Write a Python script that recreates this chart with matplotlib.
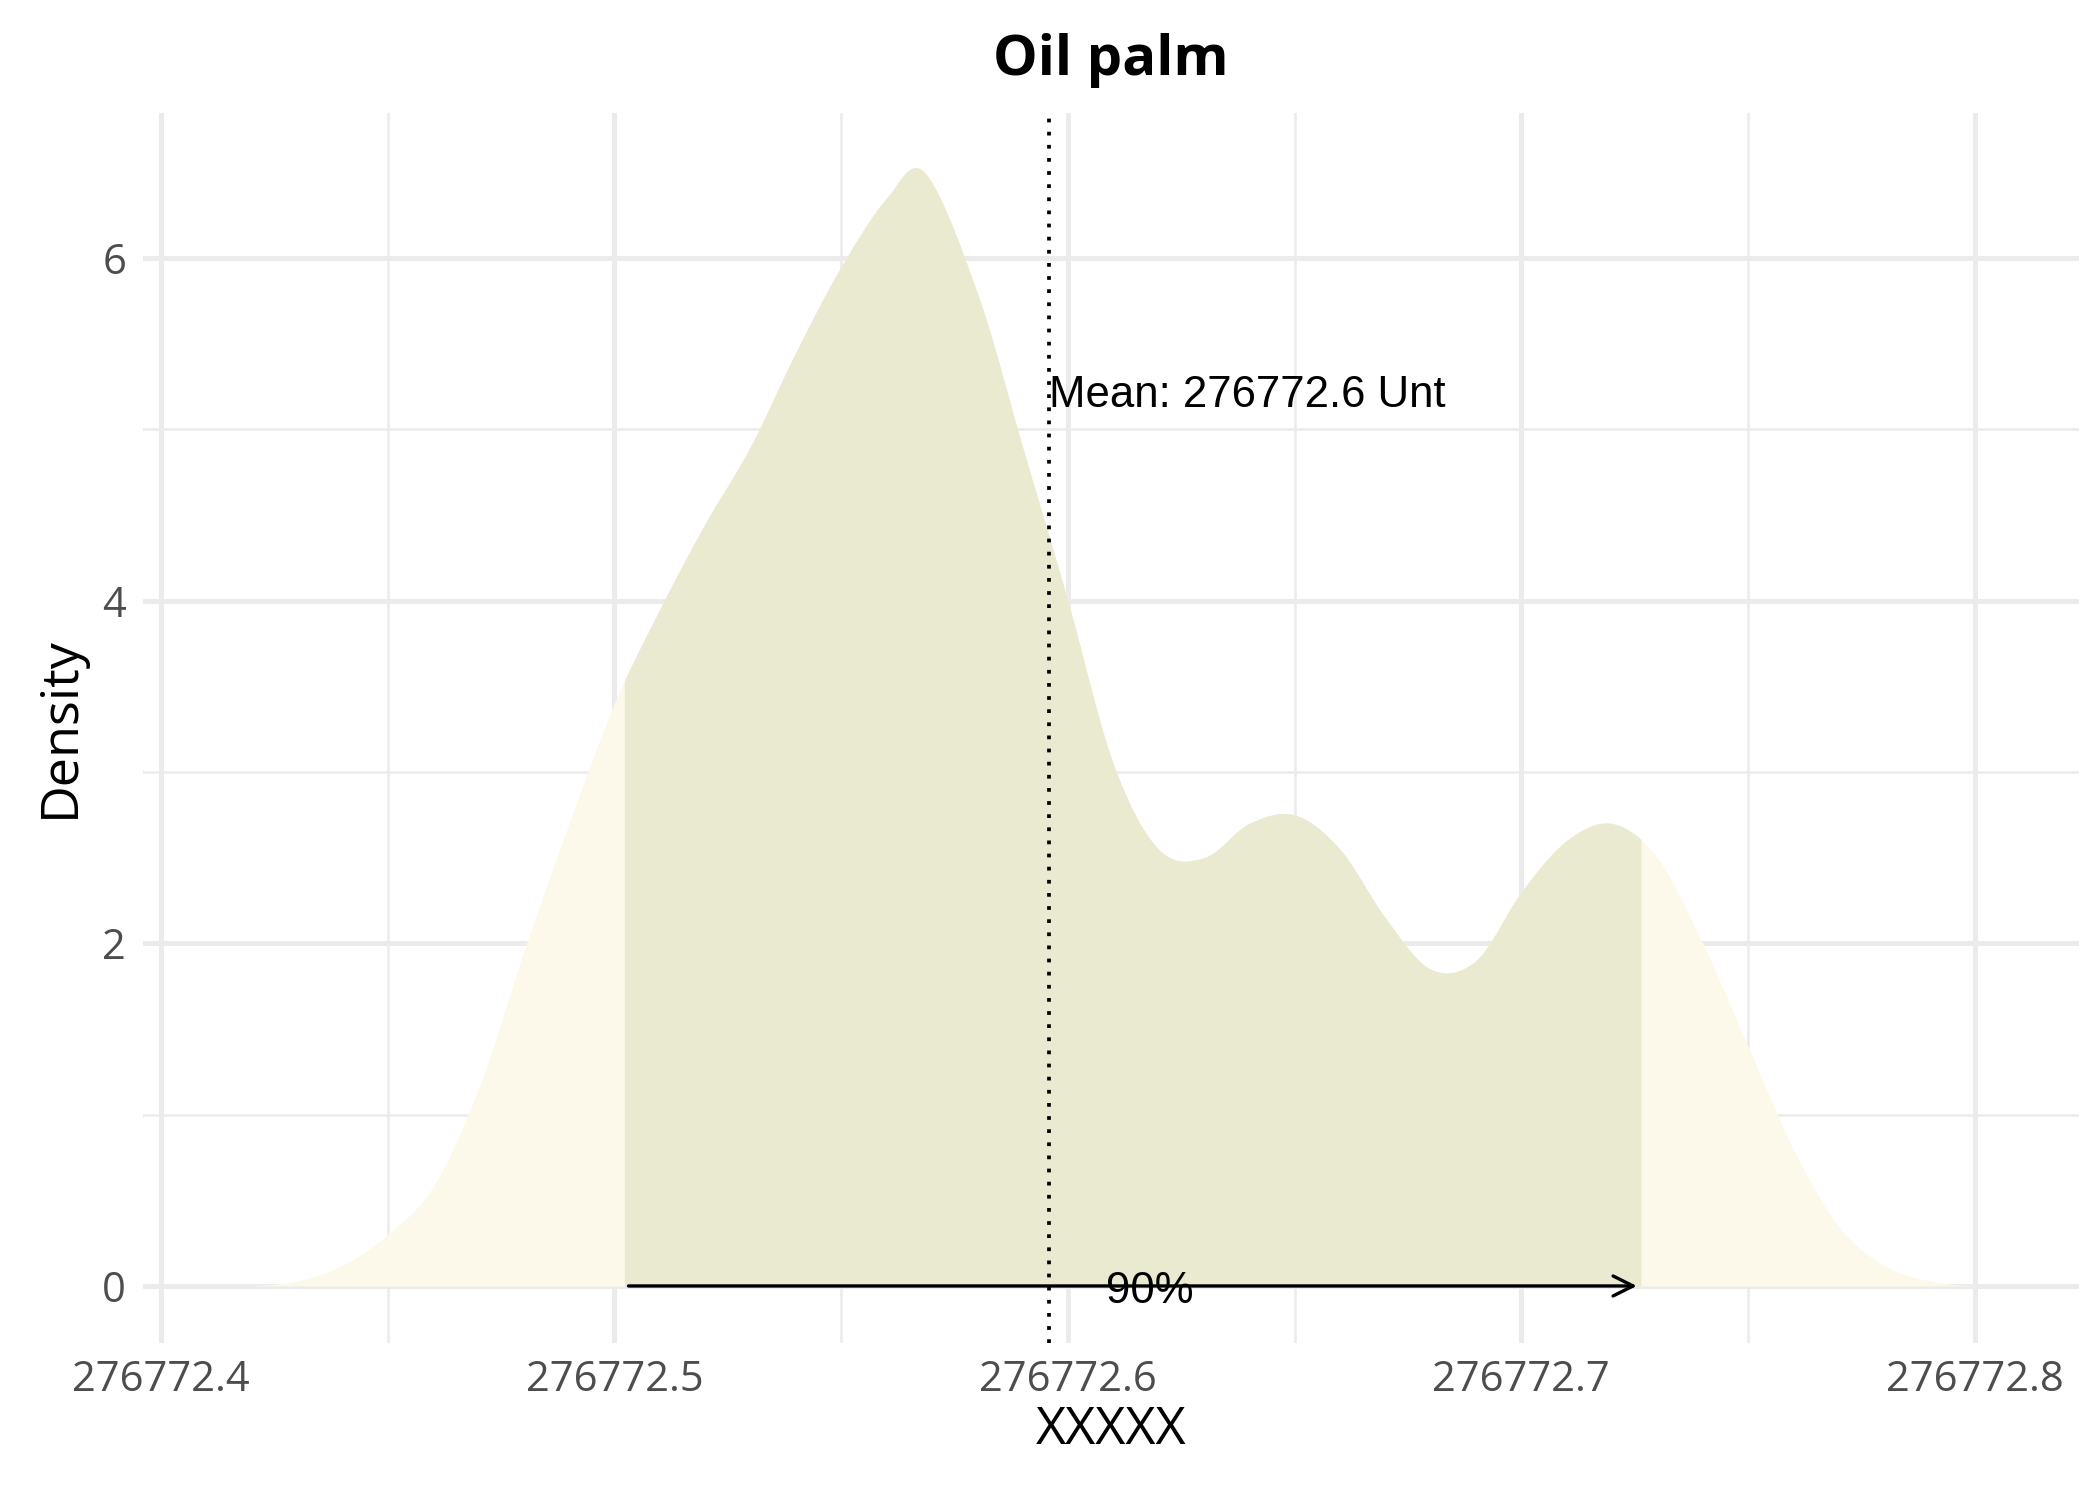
import numpy as np
import matplotlib
matplotlib.use("Agg")
import matplotlib.pyplot as plt
from matplotlib.ticker import MultipleLocator

base = 276772.0
x_off = [0.42, 0.43, 0.44, 0.45, 0.46, 0.47, 0.48, 0.49, 0.50, 0.51, 0.52, 0.53,
         0.54, 0.55, 0.56, 0.5684, 0.58, 0.59, 0.60, 0.61, 0.62, 0.63, 0.64, 0.65,
         0.66, 0.67, 0.68, 0.69, 0.70, 0.71, 0.72, 0.73, 0.74, 0.75, 0.76, 0.77,
         0.78, 0.79, 0.80]
density = [0.0, 0.03, 0.12, 0.3, 0.58, 1.15, 1.95, 2.7, 3.4, 3.95, 4.45, 4.9,
           5.45, 5.95, 6.35, 6.5, 5.8, 4.9, 4.0, 3.05, 2.55, 2.5, 2.7, 2.75,
           2.55, 2.15, 1.85, 1.9, 2.3, 2.6, 2.7, 2.5, 2.0, 1.4, 0.8, 0.35,
           0.12, 0.03, 0.0]
lo, hi = base + 0.5022, base + 0.7264
mean_val = base + 0.5958
label_pct = "90%"


def smooth(xs, ys, n=20):
    # Catmull-Rom curve through the read points, only for drawing
    xs, ys = np.asarray(xs), np.asarray(ys)
    px = np.concatenate([[2 * xs[0] - xs[1]], xs, [2 * xs[-1] - xs[-2]]])
    py = np.concatenate([[ys[0]], ys, [ys[-1]]])
    ox, oy = [], []
    t = np.linspace(0, 1, n, endpoint=False)
    for i in range(1, len(px) - 2):
        for arr, out in ((px, ox), (py, oy)):
            p0, p1, p2, p3 = arr[i - 1:i + 3]
            out.extend(0.5 * (2 * p1 + (-p0 + p2) * t + (2 * p0 - 5 * p1 + 4 * p2 - p3) * t ** 2
                              + (-p0 + 3 * p1 - 3 * p2 + p3) * t ** 3))
    ox.append(xs[-1]); oy.append(ys[-1])
    return np.array(ox), np.clip(np.array(oy), 0, None)


x, y = smooth(np.array(x_off) + base, density)
inside = (x >= lo) & (x <= hi)
xi = np.concatenate([[lo], x[inside], [hi]])
yi = np.concatenate([[np.interp(lo, x, y)], y[inside], [np.interp(hi, x, y)]])

fig, ax = plt.subplots(figsize=(14, 10), dpi=150)
fig.subplots_adjust(left=0.068, right=0.99, top=0.925, bottom=0.105)

ax.fill_between(x, y, color="#fdf9ea", lw=0, zorder=2)
ax.fill_between(xi, yi, color="#e9eacf", lw=0, zorder=3)
ax.axvline(mean_val, color="black", ls=(0, (1, 2.5)), lw=1.8, zorder=4)
ax.annotate("", xy=(hi, 0), xytext=(lo, 0),
            arrowprops=dict(arrowstyle="->", lw=1.6, color="black",
                            mutation_scale=24), zorder=5)
ax.text(base + 0.6085, -0.03, label_pct, fontsize=21, family="Liberation Sans",
        ha="left", va="center", zorder=6)
ax.text(mean_val, 5.2, f"Mean: {mean_val:.1f} Unt", fontsize=21,
        family="Liberation Sans", ha="left", va="center", zorder=6)

ax.set_xlim(base + 0.396, base + 0.823)
ax.set_ylim(-0.33, 6.85)
xt = [base + v for v in (0.4, 0.5, 0.6, 0.7, 0.8)]
ax.set_xticks(xt)
ax.set_xticklabels([f"{v:.1f}" for v in xt])
ax.xaxis.set_minor_locator(MultipleLocator(0.05))
ax.set_yticks([0, 2, 4, 6])
ax.yaxis.set_minor_locator(MultipleLocator(1))
ax.grid(which="major", color="#ebebeb", lw=2.4, zorder=0)
ax.grid(which="minor", color="#ebebeb", lw=1.2, zorder=0)
ax.set_axisbelow(True)
for s in ax.spines.values():
    s.set_visible(False)
ax.tick_params(which="both", length=0, labelsize=20, labelcolor="#4d4d4d", pad=8)
for lab in ax.get_xticklabels() + ax.get_yticklabels():
    lab.set_family("Open Sans")
ax.set_xlabel("XXXXX", fontsize=25, family="Open Sans", labelpad=2)
ax.set_ylabel("Density", fontsize=25, family="Open Sans", labelpad=8)
ax.set_title("Oil palm", fontsize=27, fontweight="bold", family="Open Sans", pad=18)

fig.savefig("out.png", dpi=150)
